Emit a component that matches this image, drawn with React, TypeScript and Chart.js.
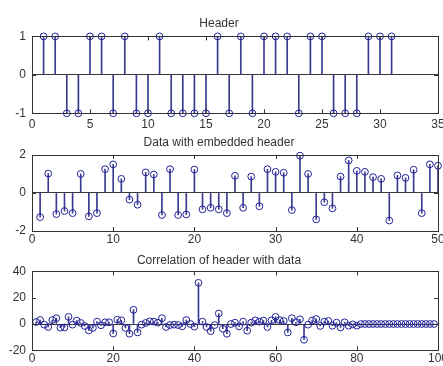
import React, { useEffect, useRef } from "react";
import { Chart, registerables } from "chart.js";

Chart.register(...registerables);

// ---- data ----
const headerValues = [1, 1, -1, -1, 1, 1, -1, 1, -1, -1, 1, -1, -1, -1, -1, 1, -1, 1, -1, 1, 1, 1, -1, 1, 1, -1, -1, -1, 1, 1, 1];

const dataValues = [
  -1.27, 1.02, -1.11, -0.95, -1.06, 1.0, -1.23, -1.06, 1.25, 1.5,
  0.74, -0.35, -0.62, 1.08, 0.97, -1.16, 1.25, -1.16, -1.13, 1.23,
  -0.86, -0.78, -0.86, -1.06, 0.9, -0.78, 0.86, -0.7, 1.25, 1.11,
  1.06, -0.9, 1.96, 1.0, -1.39, -0.49, -0.81, 0.86, 1.71, 1.16,
  1.11, 0.83, 0.74, -1.45, 0.92, 0.79, 1.22, -1.06, 1.5, 1.43,
];

const corrValues = [
  1.5, 3, -0.5, -2.3, 3, 4.4, -2.8, -2.6, 5.4, -0.5,
  2.6, 0.8, -1.5, -4.9, -3, 1.8, -1, 1.3, 1.3, -7.2,
  3.3, 2.8, -3, -7.4, 10.8, -6.4, -0.5, 0.8, 2, 1.8,
  1, 4.4, -2.3, -0.8, -0.5, -0.8, -1.8, 3, 0, -2,
  31.3, 1.8, -2.3, -5.4, -0.8, 8, -3.6, -7.4, 0, 1,
  -1.8, 1.8, -5.1, 1, 2.8, 1.8, 2.6, -2.3, 2.8, 5.4,
  3, 2.3, -6.4, 4.4, 1.3, 3.6, -12, -0.5, 2.6, 3.8,
  -1.5, 1.8, 2.3, -1.3, 1, -2.6, 1.3, -1.3, -0.3, -1.3,
  0, 0, 0, 0, 0, 0, 0, 0, 0, 0,
  0, 0, 0, 0, 0, 0, 0, 0, 0,
];

const titles = ["Header", "Data with embedded header", "Correlation of header with data"];
const xRanges = [[0, 35, 5], [0, 50, 10], [0, 100, 20]];
const yRanges = [[-1, 1, 1], [-2, 2, 2], [-20, 40, 20]];
const seriesList = [headerValues, dataValues, corrValues];

// ---- layout / style ----
const W = 443;
const panels = [
  { top: 0, height: 128, padTop: 16, titlePadBottom: 6, xAxisH: 14.7, labelPad: 4 },
  { top: 128, height: 118, padTop: 7, titlePadBottom: 5.5, xAxisH: 15, labelPad: 1 },
  { top: 246, height: 120, padTop: 7, titlePadBottom: 4, xAxisH: 15.7, labelPad: 1.5 },
];
const STEM = "#3a3a92";
const MARK = "#22229a";
const AXIS = "#333333";

const matlabAxes = {
  id: "matlabAxes",
  afterDraw(chart: any) {
    const { ctx, chartArea, scales } = chart;
    const { left, right, top, bottom } = chartArea;
    const x = scales.x;
    const y = scales.y;
    ctx.save();
    ctx.strokeStyle = AXIS;
    ctx.lineWidth = 1;
    const L = 4;
    ctx.beginPath();
    x.ticks.forEach((t: any) => {
      const px = Math.round(x.getPixelForValue(t.value)) + 0.5;
      ctx.moveTo(px, bottom);
      ctx.lineTo(px, bottom - L);
      ctx.moveTo(px, top);
      ctx.lineTo(px, top + L);
    });
    y.ticks.forEach((t: any) => {
      const py = Math.round(y.getPixelForValue(t.value)) + 0.5;
      ctx.moveTo(left, py);
      ctx.lineTo(left + L, py);
      ctx.moveTo(right, py);
      ctx.lineTo(right - L, py);
    });
    ctx.stroke();
    ctx.strokeRect(
      Math.round(left) + 0.5,
      Math.round(top) + 0.5,
      Math.round(right) - Math.round(left),
      Math.round(bottom) - Math.round(top)
    );
    ctx.restore();
  },
};

function StemPanel({ idx }: { idx: number }) {
  const ref = useRef<HTMLCanvasElement | null>(null);
  useEffect(() => {
    const p = panels[idx];
    const vals = seriesList[idx];
    const pts = vals.map((v, i) => ({ x: i + 1, y: v }));
    const [xmin, xmax, xstep] = xRanges[idx];
    const [ymin, ymax, ystep] = yRanges[idx];
    const chart = new Chart(ref.current as HTMLCanvasElement, {
      type: "scatter",
      data: {
        datasets: [
          {
            type: "scatter",
            data: pts,
            order: 0,
            showLine: false,
            pointStyle: "circle",
            pointRadius: 3.4,
            pointBorderWidth: 1,
            pointBorderColor: MARK,
            pointBackgroundColor: "rgba(0,0,0,0)",
            clip: false,
          } as any,
          {
            type: "bar",
            data: pts,
            order: 1,
            barThickness: 1,
            backgroundColor: STEM,
            borderWidth: 0,
          } as any,
        ],
      },
      options: {
        responsive: false,
        animation: false,
        events: [],
        layout: { padding: { top: p.padTop, left: 0, right: 5, bottom: 0 } },
        font: { family: '"Liberation Sans", Arial, sans-serif', size: 12 },
        plugins: {
          legend: { display: false },
          tooltip: { enabled: false },
          title: {
            display: true,
            text: titles[idx],
            color: "#333",
            font: { family: '"Liberation Sans", Arial, sans-serif', size: 12, weight: "normal" },
            padding: { top: 0, bottom: p.titlePadBottom },
          },
        },
        scales: {
          x: {
            type: "linear",
            min: xmin,
            max: xmax,
            offset: false,
            grid: { display: false, offset: false, drawTicks: false },
            border: { display: false },
            ticks: {
              stepSize: xstep,
              autoSkip: false,
              maxRotation: 0,
              padding: p.labelPad,
              color: "#333",
              font: { family: '"Liberation Sans", Arial, sans-serif', size: 12 },
            },
            afterFit: (s: any) => {
              s.height = p.xAxisH;
              s.paddingLeft = 0;
              s.paddingRight = 0;
            },
          },
          y: {
            type: "linear",
            min: ymin,
            max: ymax,
            grid: {
              drawTicks: false,
              lineWidth: 1,
              color: (c: any) => (c.tick && c.tick.value === 0 ? "#3a3a3a" : "rgba(0,0,0,0)"),
            },
            border: { display: false },
            ticks: {
              stepSize: ystep,
              autoSkip: false,
              padding: 6,
              color: "#333",
              font: { family: '"Liberation Sans", Arial, sans-serif', size: 12 },
            },
            afterFit: (s: any) => {
              s.width = 32;
              s.paddingTop = 0;
              s.paddingBottom = 0;
            },
          },
        },
      },
      plugins: [matlabAxes],
    } as any);
    return () => chart.destroy();
  }, [idx]);
  const p = panels[idx];
  return (
    <canvas
      ref={ref}
      width={W}
      height={p.height}
      style={{ position: "absolute", left: 0, top: p.top, width: W, height: p.height, display: "block" }}
    />
  );
}

export default function App() {
  return (
    <div
      style={{
        position: "fixed",
        left: 0,
        top: 0,
        width: W,
        height: 366,
        overflow: "hidden",
        background: "#ffffff",
      }}
    >
      <StemPanel idx={0} />
      <StemPanel idx={1} />
      <StemPanel idx={2} />
    </div>
  );
}
